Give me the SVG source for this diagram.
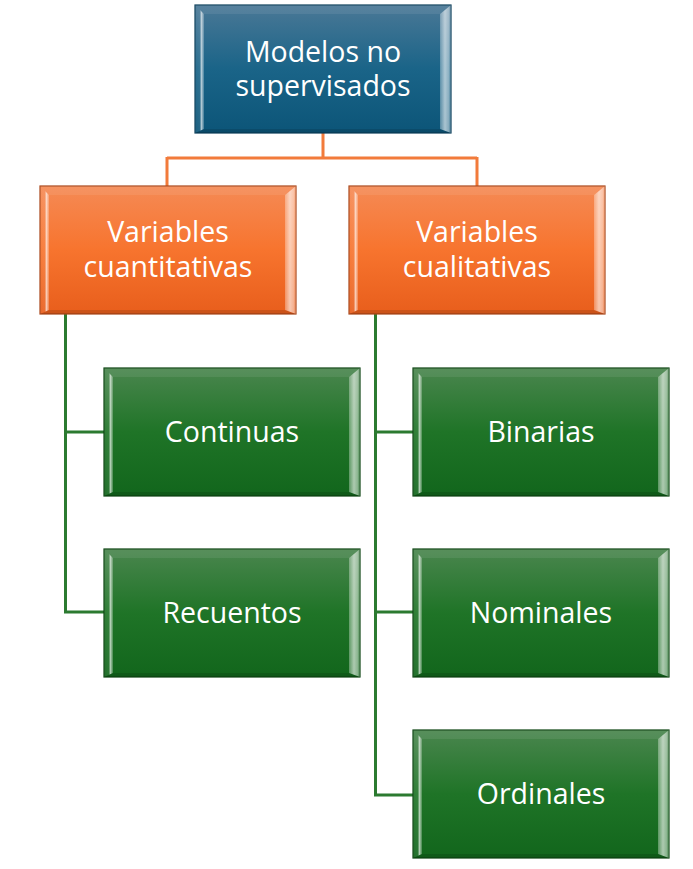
<svg xmlns="http://www.w3.org/2000/svg" width="693" height="869" viewBox="0 0 693 869">
<defs>
<linearGradient id="gBlue" x1="0" y1="0" x2="0" y2="1">
<stop offset="0" stop-color="#4a7896"/>
<stop offset="0.5" stop-color="#1a6488"/>
<stop offset="1" stop-color="#0c5578"/>
</linearGradient>
<linearGradient id="gOrange" x1="0" y1="0" x2="0" y2="1">
<stop offset="0" stop-color="#f58a55"/>
<stop offset="0.5" stop-color="#f7742e"/>
<stop offset="1" stop-color="#e85e1c"/>
</linearGradient>
<linearGradient id="gGreen" x1="0" y1="0" x2="0" y2="1">
<stop offset="0" stop-color="#4a864e"/>
<stop offset="0.5" stop-color="#1f7427"/>
<stop offset="1" stop-color="#12661c"/>
</linearGradient>
<linearGradient id="gLeft" x1="0" y1="0" x2="1" y2="0">
<stop offset="0" stop-color="#ffffff" stop-opacity="0.06"/>
<stop offset="0.55" stop-color="#ffffff" stop-opacity="0.1"/>
<stop offset="0.7" stop-color="#ffffff" stop-opacity="0.7"/>
<stop offset="1" stop-color="#ffffff" stop-opacity="0.2"/>
</linearGradient>
<linearGradient id="gRight" x1="0" y1="0" x2="1" y2="0">
<stop offset="0" stop-color="#ffffff" stop-opacity="0.3"/>
<stop offset="0.45" stop-color="#ffffff" stop-opacity="0.65"/>
<stop offset="0.8" stop-color="#ffffff" stop-opacity="0.5"/>
<stop offset="1" stop-color="#ffffff" stop-opacity="0.15"/>
</linearGradient>
<g id="bevel">
<polygon points="0,0 256,0 245,9 9,9" fill="#ffffff" fill-opacity="0.08"/>
<polygon points="0,0 9,9 9,124 0,128" fill="url(#gLeft)"/>
<polygon points="256,0 256,128 245,124 245,9" fill="url(#gRight)"/>
<polygon points="0,128 9,124 245,124 256,128" fill="#000000" fill-opacity="0.12"/>
</g>
</defs>
<style>
.box{stroke-width:1.2}
.blue{fill:url(#gBlue);stroke:#0d3f5a}
.orange{fill:url(#gOrange);stroke:#a9461a}
.green{fill:url(#gGreen);stroke:#0d4412}
.t{font-family:"Open Sans","DejaVu Sans",sans-serif;font-size:28.5px;fill:#ffffff;text-anchor:middle}
.co{fill:none;stroke:#f27b3b;stroke-width:3}
.cg{fill:none;stroke:#2b7a30;stroke-width:3}
</style>
<g id="connectors">
<path class="co" d="M323,133 V158 M167,158 H477 M167,157 V186 M477,157 V186"/>
<path class="cg" d="M65.5,314 V612 H104 M65.5,432 H104"/>
<path class="cg" d="M375.5,314 V795 H413 M375.5,432 H413 M375.5,612 H413"/>
</g>
<g id="n-root">
<rect class="box blue" x="195" y="5" width="256" height="128"/>
<use href="#bevel" x="195" y="5"/>
<text class="t" x="323" y="62">Modelos no</text>
<text class="t" x="323" y="96">supervisados</text>
</g>
<g id="n-cuant">
<rect class="box orange" x="40" y="186" width="256" height="128"/>
<use href="#bevel" x="40" y="186"/>
<text class="t" x="168" y="242">Variables</text>
<text class="t" x="168" y="277">cuantitativas</text>
</g>
<g id="n-cual">
<rect class="box orange" x="349" y="186" width="256" height="128"/>
<use href="#bevel" x="349" y="186"/>
<text class="t" x="477" y="242">Variables</text>
<text class="t" x="477" y="277">cualitativas</text>
</g>
<g id="n-continuas">
<rect class="box green" x="104" y="368" width="256" height="128"/>
<use href="#bevel" x="104" y="368"/>
<text class="t" x="232" y="442">Continuas</text>
</g>
<g id="n-recuentos">
<rect class="box green" x="104" y="549" width="256" height="128"/>
<use href="#bevel" x="104" y="549"/>
<text class="t" x="232" y="623">Recuentos</text>
</g>
<g id="n-binarias">
<rect class="box green" x="413" y="368" width="256" height="128"/>
<use href="#bevel" x="413" y="368"/>
<text class="t" x="541" y="442">Binarias</text>
</g>
<g id="n-nominales">
<rect class="box green" x="413" y="549" width="256" height="128"/>
<use href="#bevel" x="413" y="549"/>
<text class="t" x="541" y="623">Nominales</text>
</g>
<g id="n-ordinales">
<rect class="box green" x="413" y="730" width="256" height="128"/>
<use href="#bevel" x="413" y="730"/>
<text class="t" x="541" y="804">Ordinales</text>
</g>
</svg>
